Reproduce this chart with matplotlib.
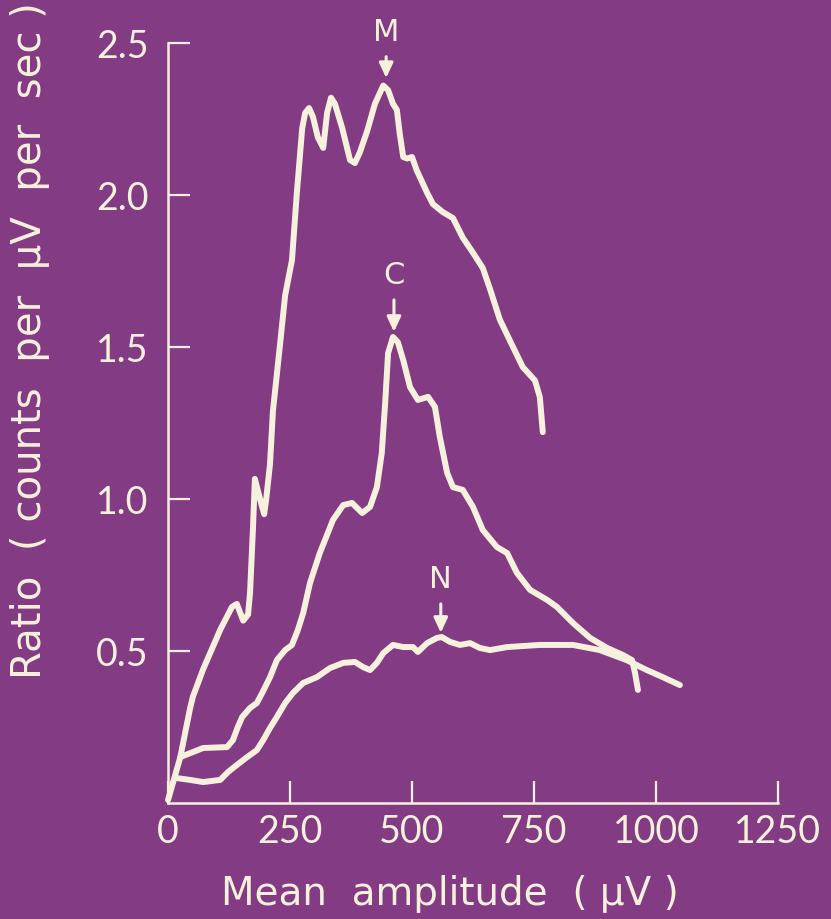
"""Ratio spectra M, C, N against mean amplitude, on a purple slide background."""

import matplotlib

matplotlib.use("Agg")
import matplotlib.pyplot as plt

BG = "#833b84"
INK = "#f6f1dc"

# Mean amplitude (uV) and ratio values
m_x = [0, 25, 45, 51, 72, 107, 131, 141, 154, 164, 168, 174, 178, 189, 197, 201,
       209, 215, 229, 240, 254, 264, 275, 281, 289, 297, 307, 318, 326, 334, 342,
       357, 373, 383, 393, 408, 424, 441, 451, 461, 469, 475, 482, 490, 500, 510,
       531, 543, 563, 584, 604, 625, 645, 660, 680, 707, 727, 752, 762, 768]
m_y = [0.01, 0.15, 0.31, 0.35, 0.44, 0.57, 0.645, 0.655, 0.60, 0.62, 0.69, 0.90,
       1.066, 0.997, 0.95, 0.997, 1.115, 1.29, 1.50, 1.67, 1.786, 2.007, 2.22,
       2.27, 2.286, 2.257, 2.19, 2.155, 2.27, 2.32, 2.30, 2.22, 2.115, 2.105,
       2.14, 2.21, 2.30, 2.36, 2.345, 2.30, 2.28, 2.20, 2.125, 2.12, 2.125, 2.08,
       2.007, 1.97, 1.944, 1.924, 1.86, 1.81, 1.76, 1.69, 1.59, 1.50, 1.434,
       1.39, 1.335, 1.22]

c_x = [25, 72, 121, 133, 143, 152, 168, 182, 193, 209, 223, 240, 254, 266, 277,
       291, 311, 338, 359, 377, 398, 414, 428, 438, 445, 451, 461, 471, 482, 496,
       512, 533, 547, 557, 572, 584, 604, 625, 645, 674, 695, 715, 742, 777, 797,
       830, 865, 900, 932, 951, 957, 963]
c_y = [0.151, 0.181, 0.184, 0.207, 0.25, 0.283, 0.3125, 0.329, 0.362, 0.414,
       0.470, 0.503, 0.520, 0.569, 0.625, 0.724, 0.822, 0.931, 0.980, 0.987,
       0.954, 0.974, 1.039, 1.151, 1.316, 1.480, 1.533, 1.516, 1.457, 1.368,
       1.326, 1.336, 1.303, 1.204, 1.086, 1.039, 1.030, 0.974, 0.898, 0.842,
       0.822, 0.757, 0.701, 0.668, 0.645, 0.592, 0.543, 0.510, 0.487, 0.470,
       0.428, 0.372]

n_x = [18, 45, 72, 107, 123, 141, 162, 182, 195, 209, 223, 240, 256, 277, 305,
       332, 359, 383, 400, 414, 428, 441, 461, 482, 502, 512, 531, 551, 561, 578,
       598, 619, 639, 660, 695, 762, 830, 885, 940, 981, 1014, 1049]
n_y = [0.082, 0.076, 0.069, 0.076, 0.102, 0.125, 0.151, 0.174, 0.207, 0.247,
       0.283, 0.329, 0.362, 0.395, 0.414, 0.444, 0.461, 0.464, 0.447, 0.4375,
       0.461, 0.493, 0.520, 0.513, 0.513, 0.497, 0.526, 0.543, 0.546, 0.530,
       0.520, 0.526, 0.510, 0.503, 0.513, 0.520, 0.520, 0.503, 0.470, 0.4375,
       0.414, 0.388]

# Peak markers: label, arrow tip (x, y), label position y
peak_labels = ["M", "C", "N"]
peak_x = [447, 463, 559]
peak_y = [2.385, 1.55, 0.56]
label_y = [2.535, 1.735, 0.735]

x_ticks = [0, 250, 500, 750, 1000, 1250]
y_ticks = [0.5, 1.0, 1.5, 2.0, 2.5]

plt.rcParams["font.family"] = ["Lato", "DejaVu Sans"]
LABEL_FONT = ["DejaVu Sans"]

fig = plt.figure(figsize=(8.31, 9.19), dpi=100, facecolor=BG)
ax = fig.add_axes([0.2022, 0.1262, 0.734, 0.827], facecolor=BG)

for xs, ys in [(m_x, m_y), (c_x, c_y), (n_x, n_y)]:
    ax.plot(xs, ys, color=INK, linewidth=4.3, solid_capstyle="round",
            solid_joinstyle="round", clip_on=False)

for lab, px, py, ly in zip(peak_labels, peak_x, peak_y, label_y):
    ax.annotate("", xy=(px, py), xytext=(px, ly - 0.08),
                arrowprops=dict(arrowstyle="-|>,head_length=0.9,head_width=0.42",
                                color=INK, linewidth=2.2, shrinkA=0, shrinkB=0),
                annotation_clip=False)
    ax.text(px, ly, lab, color=INK, fontsize=22, ha="center", va="center",
            family=LABEL_FONT, clip_on=False)

ax.set_xlim(0, 1250)
ax.set_ylim(0, 2.5)
ax.set_xticks(x_ticks)
ax.set_yticks(y_ticks)
ax.set_xticklabels([str(v) for v in x_ticks])
ax.set_yticklabels([f"{v:.1f}" for v in y_ticks])

for side in ["top", "right"]:
    ax.spines[side].set_visible(False)
for side in ["left", "bottom"]:
    ax.spines[side].set_color(INK)
    ax.spines[side].set_linewidth(1.8)

ax.tick_params(axis="both", direction="in", length=16, width=1.6, color=INK,
               labelcolor=INK, labelsize=27)
ax.tick_params(axis="x", pad=8)
ax.tick_params(axis="y", pad=14)

fig.text(0.5415, 0.027, "Mean  amplitude  ( µV )", color=INK, fontsize=28,
         ha="center", va="center", family=LABEL_FONT)
fig.text(0.036, 0.629, "Ratio  ( counts  per  µV  per  sec )", color=INK,
         fontsize=29, rotation=90, ha="center", va="center", family=LABEL_FONT)

fig.savefig("out.png", dpi=100, facecolor=BG)
